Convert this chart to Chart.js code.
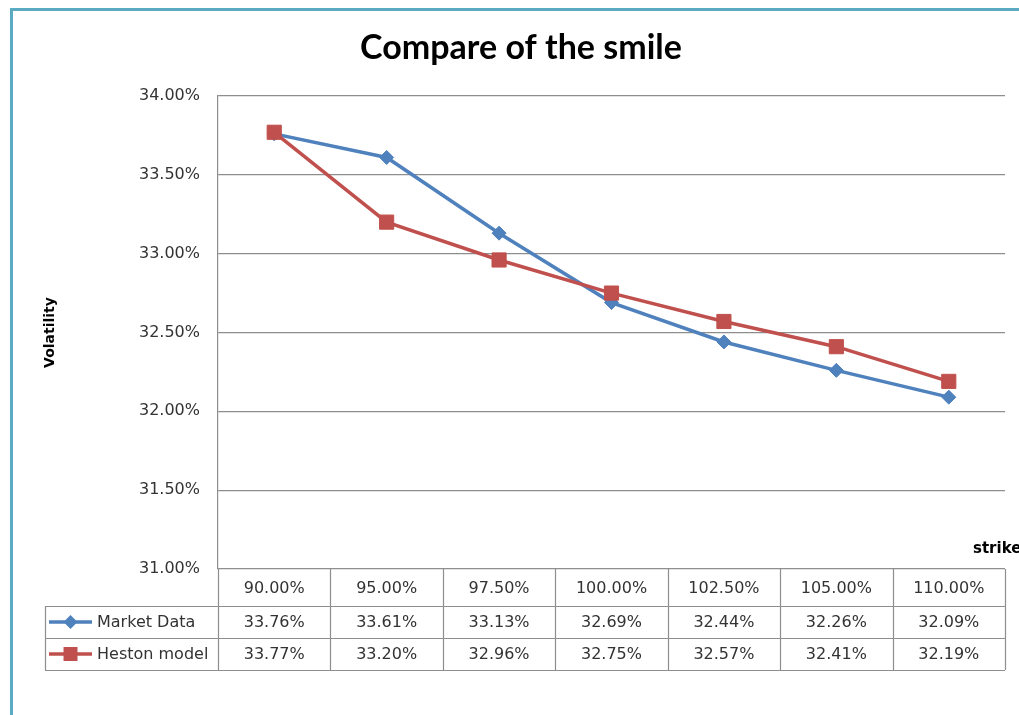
<!DOCTYPE html>
<html>
<head>
<meta charset="utf-8">
<title>Compare of the smile</title>
<script src="https://cdn.jsdelivr.net/npm/chart.js@4.4.1/dist/chart.umd.min.js"></script>
<style>
  html, body { margin: 0; padding: 0; background: #fff; overflow: hidden; }
  #wrap { position: relative; width: 1019px; height: 715px; }
</style>
</head>
<body>
<div id="wrap"><canvas id="smile-chart"></canvas></div>
<script>
// DATA
const strikeLabels = ['90.00%', '95.00%', '97.50%', '100.00%', '102.50%', '105.00%', '110.00%'];
const marketData = [33.76, 33.61, 33.13, 32.69, 32.44, 32.26, 32.09];
const hestonModel = [33.77, 33.20, 32.96, 32.75, 32.57, 32.41, 32.19];

const blue = '#4F81BD';
const red = '#C0504D';
const gridGray = '#8E8E8E';
const tableFont = '16px "DejaVu Sans", Verdana, sans-serif';

// frame, title, axis name and the data table under the plot
const excelLook = {
  id: 'excelLook',
  beforeDraw(chart) {
    const ctx = chart.ctx;
    ctx.save();
    ctx.fillStyle = '#fff';
    ctx.fillRect(0, 0, chart.width, chart.height);
    // teal chart border (only left and top are in view)
    ctx.fillStyle = '#5AAAC2';
    ctx.fillRect(10, 8, 3, chart.height - 8);
    ctx.fillRect(10, 8, chart.width - 10, 3);
    ctx.restore();
  },
  afterDraw(chart) {
    const ctx = chart.ctx;
    const area = chart.chartArea;
    const xs = chart.scales.x;
    const n = strikeLabels.length;
    const colW = (area.right - area.left) / n;
    const legendLeft = 45;
    const r0 = area.bottom, r1 = r0 + 37, r2 = r1 + 32, r3 = r2 + 32;

    ctx.save();
    // title
    ctx.fillStyle = '#000';
    ctx.font = 'bold 34px Lato, "Open Sans", sans-serif';
    ctx.textAlign = 'center';
    ctx.textBaseline = 'middle';
    ctx.fillText('Compare of the smile', 521, 48);

    // x axis name
    ctx.font = 'bold 15px "DejaVu Sans", Verdana, sans-serif';
    ctx.textAlign = 'left';
    ctx.fillText('strike', 973, 549);

    // table grid
    ctx.strokeStyle = gridGray;
    ctx.lineWidth = 1.2;
    ctx.beginPath();
    for (let i = 0; i <= n; i++) {
      const x = Math.round(area.left + i * colW) + 0.5;
      ctx.moveTo(x, r0);
      ctx.lineTo(x, r3);
    }
    [r1, r2, r3].forEach(y => {
      ctx.moveTo(legendLeft, y + 0.5);
      ctx.lineTo(area.right, y + 0.5);
    });
    ctx.moveTo(legendLeft + 0.5, r1);
    ctx.lineTo(legendLeft + 0.5, r3);
    ctx.stroke();

    // table text
    ctx.font = tableFont;
    ctx.fillStyle = '#333';
    ctx.textAlign = 'center';
    ctx.textBaseline = 'middle';
    strikeLabels.forEach((lab, i) => {
      const cx = xs.getPixelForValue(i);
      ctx.fillText(lab, cx, (r0 + r1) / 2 + 1);
      ctx.fillText(marketData[i].toFixed(2) + '%', cx, (r1 + r2) / 2 + 1);
      ctx.fillText(hestonModel[i].toFixed(2) + '%', cx, (r2 + r3) / 2 + 1);
    });

    // legend keys
    const rows = [
      { name: 'Market Data', color: blue, y: (r1 + r2) / 2, shape: 'diamond' },
      { name: 'Heston model', color: red, y: (r2 + r3) / 2, shape: 'square' }
    ];
    rows.forEach(row => {
      ctx.strokeStyle = row.color;
      ctx.fillStyle = row.color;
      ctx.lineWidth = 3.5;
      ctx.beginPath();
      ctx.moveTo(49, row.y);
      ctx.lineTo(92, row.y);
      ctx.stroke();
      const mx = 70.5;
      ctx.beginPath();
      if (row.shape === 'diamond') {
        ctx.moveTo(mx - 7, row.y);
        ctx.lineTo(mx, row.y - 7);
        ctx.lineTo(mx + 7, row.y);
        ctx.lineTo(mx, row.y + 7);
        ctx.closePath();
      } else {
        ctx.rect(mx - 7, row.y - 7, 14, 14);
      }
      ctx.fill();
      ctx.fillStyle = '#333';
      ctx.textAlign = 'left';
      ctx.fillText(row.name, 97, row.y + 1);
    });
    ctx.restore();
  }
};

const config = {
  type: 'line',
  data: {
    labels: strikeLabels,
    datasets: [{
      label: 'Market Data',
      data: marketData,
      borderColor: blue,
      backgroundColor: blue,
      borderWidth: 3.5,
      pointStyle: 'rectRot',
      pointRadius: 7,
      pointBorderWidth: 1,
      tension: 0,
      order: 2
    }, {
      label: 'Heston model',
      data: hestonModel,
      borderColor: red,
      backgroundColor: red,
      borderWidth: 3.5,
      pointStyle: 'rect',
      pointRadius: 10,
      pointBorderWidth: 1,
      tension: 0,
      order: 1
    }]
  },
  options: {
    responsive: true,
    maintainAspectRatio: false,
    animation: false,
    layout: { padding: { top: 96, bottom: 146, left: 0, right: 14 } },
    plugins: {
      legend: { display: false },
      title: { display: false },
      tooltip: { enabled: false }
    },
    scales: {
      x: {
        display: false,
        offset: true
      },
      y: {
        min: 31,
        max: 34,
        afterFit(scale) { scale.width = 218; },
        ticks: {
          stepSize: 0.5,
          padding: 18,
          color: '#333',
          font: { family: '"DejaVu Sans", Verdana, sans-serif', size: 16 },
          callback: v => v.toFixed(2) + '%'
        },
        grid: { color: gridGray, lineWidth: 1.2, drawTicks: false },
        border: { color: gridGray, width: 1.2 },
        title: {
          display: true,
          text: 'Volatility',
          color: '#000',
          font: { family: '"DejaVu Sans", Verdana, sans-serif', size: 14, weight: 'bold' },
          padding: { top: 42 }
        }
      }
    }
  },
  plugins: [excelLook]
};

const smileChart = new Chart(document.getElementById('smile-chart'), config);
</script>
</body>
</html>
